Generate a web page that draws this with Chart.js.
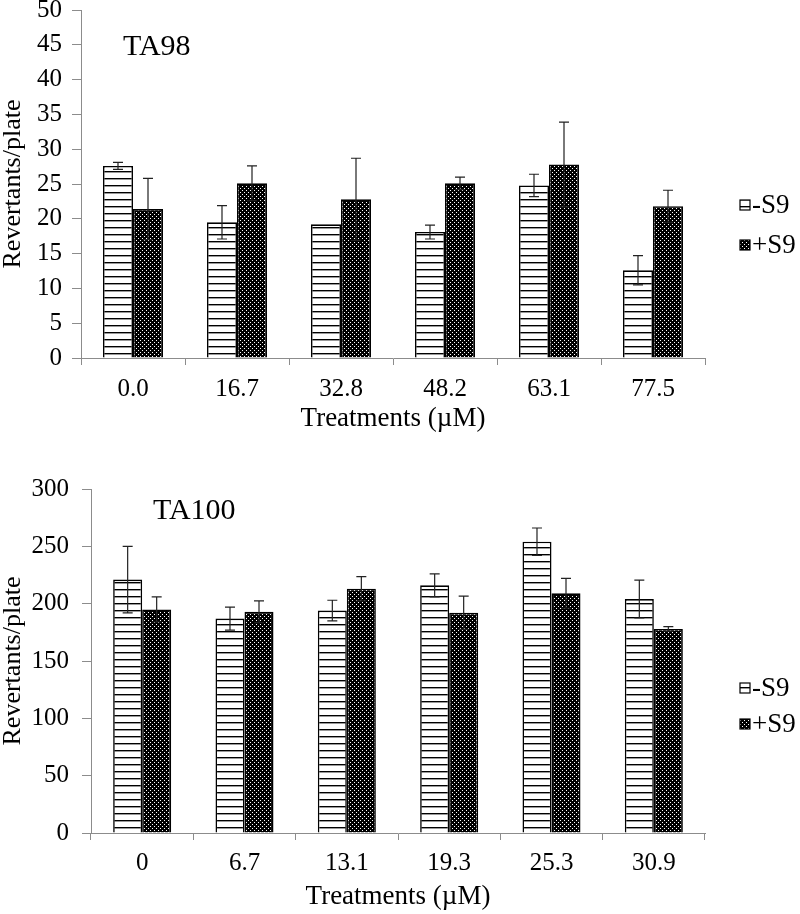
<!DOCTYPE html>
<html>
<head>
<meta charset="utf-8">
<script src="https://cdn.jsdelivr.net/npm/chart.js@4/dist/chart.umd.min.js"></script>
<style>
  html, body { margin: 0; padding: 0; background: #fff; overflow: hidden; }
  canvas { position: absolute; left: 0; }
  #ta98 { top: 0; }
  #ta100 { top: 460px; }
</style>
</head>
<body>
<canvas id="ta98" width="800" height="460"></canvas>
<canvas id="ta100" width="800" height="454"></canvas>
<script>
// TA98 values (revertants/plate, mean and SD)
var ta98Labels = ["0.0", "16.7", "32.8", "48.2", "63.1", "77.5"];
var ta98Minus = [27.6, 19.5, 19.2, 18.1, 24.8, 12.6];
var ta98MinusErr = [0.5, 2.4, 0, 1.0, 1.6, 2.1];
var ta98Plus = [21.4, 25.1, 22.8, 25.1, 27.8, 21.8];
var ta98PlusErr = [4.4, 2.5, 5.9, 0.9, 6.1, 2.3];

// TA100 values
var ta100Labels = ["0", "6.7", "13.1", "19.3", "25.3", "30.9"];
var ta100Minus = [221, 187, 194, 216, 254, 204];
var ta100MinusErr = [29, 10, 9, 10, 12, 16.5];
var ta100Plus = [195, 193, 213, 192, 209, 178];
var ta100PlusErr = [11, 9.5, 10.5, 14.5, 13, 2];

var seriesNames = ["-S9", "+S9"];

var app = (function() {
  var FONT = "'Liberation Serif', 'Times New Roman', serif";
  var AXIS_GREY = "#8c8c8c";

  // horizontal stripes for -S9
  function stripePattern() {
    var c = document.createElement("canvas");
    c.width = 8;
    c.height = 7;
    var g = c.getContext("2d");
    g.fillStyle = "#fff";
    g.fillRect(0, 0, 8, 7);
    g.fillStyle = "#000";
    g.fillRect(0, 3, 8, 1.4);
    return g.createPattern(c, "repeat");
  }

  // black with little white dots for +S9
  function dotPattern() {
    var c = document.createElement("canvas");
    c.width = 4;
    c.height = 4;
    var g = c.getContext("2d");
    g.fillStyle = "#000";
    g.fillRect(0, 0, 4, 4);
    g.fillStyle = "#fff";
    g.fillRect(0, 0, 1, 1);
    g.fillRect(2, 2, 1, 1);
    return g.createPattern(c, "repeat");
  }

  var stripes = stripePattern();
  var dots = dotPattern();

  // draws the SD whiskers on top of the bars
  var errorBars = {
    id: "errorBars",
    afterDatasetsDraw: function(chart) {
      var ctx = chart.ctx;
      var yScale = chart.scales.y;
      ctx.save();
      ctx.strokeStyle = "#222";
      ctx.lineWidth = 1.2;
      chart.data.datasets.forEach(function(ds, i) {
        var meta = chart.getDatasetMeta(i);
        meta.data.forEach(function(bar, j) {
          var err = ds.errors[j];
          if (!err) return;
          var top = yScale.getPixelForValue(ds.data[j] + err);
          var bottom = yScale.getPixelForValue(ds.data[j] - err);
          ctx.beginPath();
          ctx.moveTo(bar.x, top);
          ctx.lineTo(bar.x, bottom);
          ctx.moveTo(bar.x - 5, top);
          ctx.lineTo(bar.x + 5, top);
          ctx.moveTo(bar.x - 5, bottom);
          ctx.lineTo(bar.x + 5, bottom);
          ctx.stroke();
        });
      });
      ctx.restore();
    }
  };

  // strain name and legend at the right
  var annotations = {
    id: "annotations",
    afterDraw: function(chart, args, opts) {
      var ctx = chart.ctx;
      var area = chart.chartArea;
      ctx.save();
      ctx.fillStyle = "#000";
      ctx.font = "30px " + FONT;
      ctx.textBaseline = "alphabetic";
      ctx.textAlign = "left";
      ctx.fillText(opts.strain, area.left + opts.strainX, area.top + opts.strainY);

      ctx.font = "27px " + FONT;
      ctx.textBaseline = "middle";
      chart.data.datasets.forEach(function(ds, i) {
        var y = opts.legendY[i];
        var x = area.right + 35;
        ctx.fillStyle = ds.backgroundColor;
        ctx.fillRect(x, y - 5, 10, 10);
        ctx.strokeStyle = "#000";
        ctx.lineWidth = 1.2;
        ctx.strokeRect(x, y - 5, 10, 10);
        ctx.fillStyle = "#000";
        ctx.fillText(ds.label, x + 12, y + 1);
      });
      ctx.restore();
    }
  };

  function makeChart(canvasId, cfg) {
    var datasets = [
      {
        label: seriesNames[0],
        data: cfg.minus,
        errors: cfg.minusErr,
        backgroundColor: stripes,
        borderColor: "#000",
        borderWidth: 1.6
      },
      {
        label: seriesNames[1],
        data: cfg.plus,
        errors: cfg.plusErr,
        backgroundColor: dots,
        borderColor: "#000",
        borderWidth: 1.6
      }
    ];

    return new Chart(document.getElementById(canvasId), {
      type: "bar",
      data: { labels: cfg.labels, datasets: datasets },
      plugins: [errorBars, annotations],
      options: {
        responsive: false,
        animation: false,
        devicePixelRatio: 1,
        layout: {
          autoPadding: false,
          padding: { top: cfg.top, right: 95, left: 0, bottom: 0 }
        },
        datasets: {
          bar: { categoryPercentage: cfg.catPct, barPercentage: 1 }
        },
        plugins: {
          legend: { display: false },
          tooltip: { enabled: false },
          annotations: {
            strain: cfg.strain,
            strainX: cfg.strainX,
            strainY: cfg.strainY,
            legendY: cfg.legendY
          }
        },
        scales: {
          x: {
            grid: {
              offset: true,
              drawOnChartArea: false,
              drawTicks: true,
              tickLength: 7,
              color: AXIS_GREY
            },
            border: { color: AXIS_GREY, width: 1 },
            ticks: {
              color: "#000",
              padding: cfg.xTickPad,
              maxRotation: 0,
              font: { family: FONT, size: 25 }
            },
            title: {
              display: true,
              text: "Treatments (µM)",
              color: "#000",
              padding: { top: 0, bottom: cfg.xTitlePad },
              font: { family: FONT, size: 27 }
            },
            afterFit: function(scale) {
              scale.height = cfg.xHeight;
              scale.paddingLeft = 0;
              scale.paddingRight = 0;
            }
          },
          y: {
            min: 0,
            max: cfg.max,
            grid: {
              drawOnChartArea: false,
              drawTicks: true,
              tickLength: 9,
              color: AXIS_GREY
            },
            border: { color: AXIS_GREY, width: 1 },
            ticks: {
              stepSize: cfg.step,
              color: "#000",
              padding: cfg.yTickPad,
              font: { family: FONT, size: 25 }
            },
            title: {
              display: true,
              text: "Revertants/plate",
              color: "#000",
              padding: 0,
              font: { family: FONT, size: 26, lineHeight: 1 }
            },
            afterFit: function(scale) {
              scale.width = cfg.yWidth;
              scale.paddingTop = 0;
              scale.paddingBottom = 0;
            }
          }
        }
      }
    });
  }

  function init() {
    makeChart("ta98", {
      labels: ta98Labels,
      minus: ta98Minus,
      minusErr: ta98MinusErr,
      plus: ta98Plus,
      plusErr: ta98PlusErr,
      max: 50,
      step: 5,
      top: 10,
      yWidth: 81,
      xHeight: 102,
      catPct: 0.577,
      xTickPad: 9,
      xTitlePad: 25,
      yTickPad: 10,
      strain: "TA98",
      strainX: 42,
      strainY: 45,
      legendY: [205, 245]
    });
    makeChart("ta100", {
      labels: ta100Labels,
      minus: ta100Minus,
      minusErr: ta100MinusErr,
      plus: ta100Plus,
      plusErr: ta100PlusErr,
      max: 300,
      step: 50,
      top: 29,
      yWidth: 91,
      xHeight: 81,
      catPct: 0.567,
      xTickPad: 8,
      xTitlePad: 1,
      yTickPad: 13,
      strain: "TA100",
      strainX: 62,
      strainY: 30,
      legendY: [228, 264]
    });
  }

  init();
})();
</script>
</body>
</html>
